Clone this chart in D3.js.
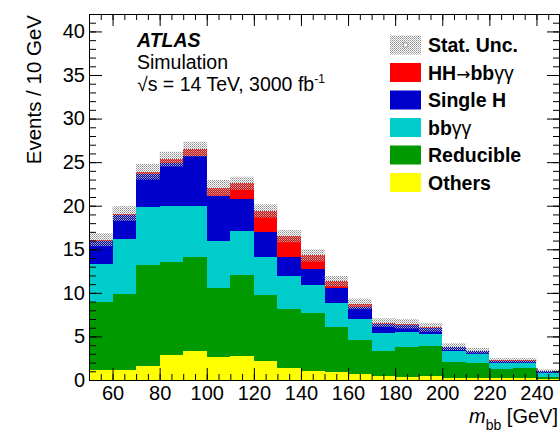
<!DOCTYPE html>
<html>
<head>
<meta charset="utf-8">
<script src="https://cdn.jsdelivr.net/npm/d3@7"></script>
<style>
  html, body { margin: 0; padding: 0; background: #fff; }
  svg { display: block; font-family: "Liberation Sans", Arial, Helvetica, sans-serif; }
</style>
</head>
<body>
<svg id="chart" width="560" height="434"></svg>
<script>
// m_bb bin lower edges (10 GeV bins, 50-250 GeV)
const binEdges = [50, 60, 70, 80, 90, 100, 110, 120, 130, 140, 150, 160, 170, 180, 190, 200, 210, 220, 230, 240];
const binWidth = 10;

// Expected events per bin, one array per process (stacked bottom to top)
const others    = [1.12, 1.12, 1.61, 2.83, 3.33, 2.68, 2.76, 2.18, 1.42, 1.00, 0.88, 0.69, 0.46, 0.38, 0.46, 0.27, 0.27, 0.20, 0.20, 0.10];
const reducible = [7.80, 8.75, 11.55, 10.68, 10.79, 7.88, 9.26, 7.58, 6.73, 6.73, 5.24, 3.90, 2.91, 3.37, 3.44, 1.80, 1.72, 1.03, 1.22, 0.28];
const bbgg      = [4.36, 6.28, 6.66, 6.47, 5.86, 5.40, 5.03, 4.36, 3.79, 3.17, 2.76, 2.37, 1.99, 1.72, 1.38, 1.22, 1.00, 0.76, 0.57, 0.46];
const singleH   = [2.67, 2.80, 3.78, 4.97, 5.74, 5.14, 3.69, 2.88, 2.21, 1.82, 1.64, 1.38, 1.09, 0.88, 0.69, 0.49, 0.34, 0.24, 0.24, 0.18];
const hh        = [0.15, 0.15, 0.30, 0.40, 0.78, 0.95, 1.84, 2.40, 2.35, 1.58, 0.81, 0.39, 0.13, 0.10, 0.08, 0.05, 0.04, 0.03, 0.03, 0.03];
// Statistical uncertainty on the total, per bin
const statUnc   = [0.75, 0.85, 0.90, 0.85, 0.85, 0.90, 0.75, 0.75, 0.70, 0.70, 0.60, 0.60, 0.50, 0.55, 0.50, 0.40, 0.30, 0.25, 0.25, 0.20];

// Axis ticks
const yMajorTicks = [0, 5, 10, 15, 20, 25, 30, 35, 40];
const xMajorTicks = [60, 80, 100, 120, 140, 160, 180, 200, 220, 240];

const processes = [
  { key: "others",    label: "Others",    values: others,    color: "#ffff00" },
  { key: "reducible", label: "Reducible", values: reducible, color: "#009a00" },
  { key: "bbgg",      label: "bbγγ",      values: bbgg,      color: "#00cccc" },
  { key: "singleH",   label: "Single H",  values: singleH,   color: "#0000cc" },
  { key: "hh",        label: "HH→bbγγ",   values: hh,        color: "#ff0000" }
];

const svg = d3.select("#chart");
const x = d3.scaleLinear().domain([50, 250]).range([89, 560]);
const y = d3.scaleLinear().domain([0, 42]).range([380, 14]);

// Checkered pattern for the statistical uncertainty band
const defs = svg.append("defs");
const pat = defs.append("pattern")
  .attr("id", "statPattern").attr("patternUnits", "userSpaceOnUse")
  .attr("width", 2).attr("height", 2);
pat.append("rect").attr("x", 0).attr("y", 0).attr("width", 1).attr("height", 1).attr("fill", "#8c8c8c");
pat.append("rect").attr("x", 1).attr("y", 1).attr("width", 1).attr("height", 1).attr("fill", "#b4b4b4");

// Build stack table
const rows = binEdges.map((lo, i) => {
  const r = { lo: lo };
  processes.forEach(p => { r[p.key] = p.values[i]; });
  return r;
});
const stack = d3.stack().keys(processes.map(p => p.key))(rows);

const plot = svg.append("g");
stack.forEach((layer, li) => {
  plot.append("g").attr("fill", processes[li].color)
    .selectAll("rect").data(layer).enter().append("rect")
    .attr("x", d => x(d.data.lo))
    .attr("width", d => x(d.data.lo + binWidth) - x(d.data.lo))
    .attr("y", d => y(d[1]))
    .attr("height", d => y(d[0]) - y(d[1]))
    .attr("shape-rendering", "crispEdges");
});

// Stat. unc. band around the stacked total
const totals = rows.map(r => processes.reduce((s, p) => s + r[p.key], 0));
plot.append("g").selectAll("rect").data(rows).enter().append("rect")
  .attr("x", d => x(d.lo))
  .attr("width", d => x(d.lo + binWidth) - x(d.lo))
  .attr("y", (d, i) => y(totals[i] + statUnc[i]))
  .attr("height", (d, i) => y(totals[i] - statUnc[i]) - y(totals[i] + statUnc[i]))
  .attr("fill", "url(#statPattern)");

// Axes: inward ticks on all four sides
const xMinor = d3.range(50, 251, 5);
const yMinor = d3.range(0, 43, 1);
function styleAxis(g) {
  g.select(".domain").remove();
  g.selectAll("line").attr("stroke", "#000").attr("stroke-width", 1);
  g.selectAll("text").attr("font-size", 20).attr("fill", "#000").attr("font-family", "Liberation Sans, Arial, sans-serif");
}
svg.append("g").attr("transform", "translate(0,380)")
  .call(d3.axisBottom(x).tickValues(xMinor).tickSize(-6).tickFormat("")).call(styleAxis);
svg.append("g").attr("transform", "translate(0,380)")
  .call(d3.axisBottom(x).tickValues(xMajorTicks).tickSize(-12).tickPadding(6).tickFormat(d3.format("d"))).call(styleAxis);
svg.append("g").attr("transform", "translate(0,14)")
  .call(d3.axisTop(x).tickValues(xMinor).tickSize(-6).tickFormat("")).call(styleAxis);
svg.append("g").attr("transform", "translate(0,14)")
  .call(d3.axisTop(x).tickValues(xMajorTicks).tickSize(-12).tickFormat("")).call(styleAxis);
svg.append("g").attr("transform", "translate(89,0)")
  .call(d3.axisLeft(y).tickValues(yMinor).tickSize(-7).tickFormat("")).call(styleAxis);
svg.append("g").attr("transform", "translate(89,0)")
  .call(d3.axisLeft(y).tickValues(yMajorTicks).tickSize(-13).tickPadding(4).tickFormat(d3.format("d"))).call(styleAxis);
svg.append("g").attr("transform", "translate(560,0)")
  .call(d3.axisRight(y).tickValues(yMinor).tickSize(-7).tickFormat("")).call(styleAxis);
svg.append("g").attr("transform", "translate(560,0)")
  .call(d3.axisRight(y).tickValues(yMajorTicks).tickSize(-13).tickFormat("")).call(styleAxis);

// Frame
svg.append("rect").attr("x", 89.5).attr("y", 14.5).attr("width", 470).attr("height", 366)
  .attr("fill", "none").attr("stroke", "#000").attr("stroke-width", 1);

// Axis titles
svg.append("text")
  .attr("transform", "translate(41,15) rotate(-90)")
  .attr("text-anchor", "end").attr("font-size", 20.5).attr("fill", "#000")
  .text("Events / 10 GeV");
const xt = svg.append("text").attr("x", 558).attr("y", 423).attr("text-anchor", "end")
  .attr("font-size", 20).attr("fill", "#000");
xt.append("tspan").attr("font-style", "italic").text("m");
xt.append("tspan").attr("font-size", 14).attr("dy", 7).text("bb");
xt.append("tspan").attr("dy", -7).text(" [GeV]");

// ATLAS label block
svg.append("text").attr("x", 137).attr("y", 47).attr("font-size", 19.5)
  .attr("font-weight", "bold").attr("font-style", "italic").attr("fill", "#000").text("ATLAS");
svg.append("text").attr("x", 137).attr("y", 68.5).attr("font-size", 19.5).attr("fill", "#000").text("Simulation");
const lumi = svg.append("text").attr("x", 137).attr("y", 90.5).attr("font-size", 19.5).attr("fill", "#000");
lumi.append("tspan").text("√s = 14 TeV, 3000 fb");
lumi.append("tspan").attr("font-size", 12).attr("dy", -8).text("-1");

// Legend
const legendItems = [
  { label: "Stat. Unc.", fill: "url(#statPattern)", stat: true },
  { label: "HH→bbγγ",  fill: "#ff0000" },
  { label: "Single H",  fill: "#0000cc" },
  { label: "bbγγ",      fill: "#00cccc" },
  { label: "Reducible", fill: "#009a00" },
  { label: "Others",    fill: "#ffff00" }
];
const lg = svg.append("g");
legendItems.forEach((it, i) => {
  const cy = 45 + i * 27.5;
  lg.append("rect").attr("x", 390).attr("y", cy - 9.5).attr("width", 31).attr("height", 19).attr("fill", it.fill);
  if (it.stat) {
    lg.append("rect").attr("x", 403.5).attr("y", cy - 2).attr("width", 4).attr("height", 4)
      .attr("fill", "#fff").attr("stroke", "#666").attr("stroke-width", 0.5);
  }
  const t = lg.append("text").attr("x", 428).attr("y", cy + 7).attr("font-size", 19.5)
    .attr("font-weight", "bold").attr("fill", "#000");
  // Greek letters and the arrow are set in regular weight
  it.label.split(/([γ→]+)/).filter(s => s.length).forEach(part => {
    const span = t.append("tspan").text(part);
    if (part === "→") span.attr("font-weight", "normal").attr("font-family", "DejaVu Sans").attr("font-size", 17);
    else if (/γ/.test(part)) span.attr("font-weight", "normal");
  });
});
</script>
</body>
</html>
